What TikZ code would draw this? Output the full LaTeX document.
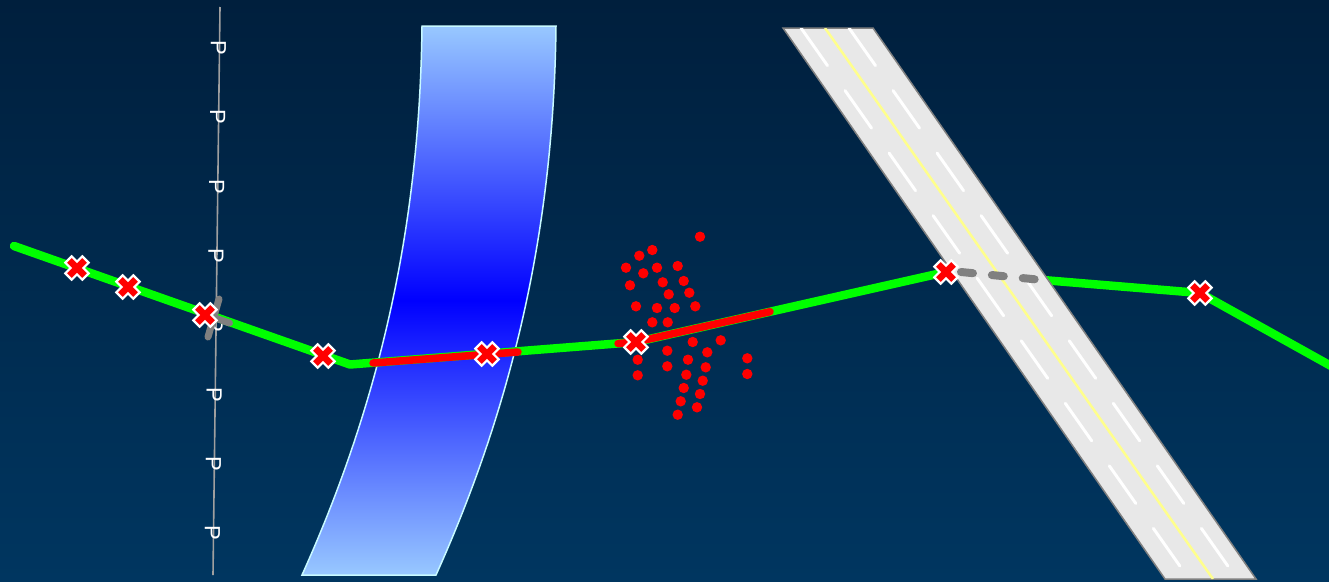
\documentclass[tikz,border=0pt]{standalone}
\usepackage{fontspec}
\setmainfont{Liberation Sans}
\usetikzlibrary{calc}

\definecolor{skytop}{RGB}{0,31,61}
\definecolor{skybot}{RGB}{0,54,96}
\definecolor{riverlight}{RGB}{152,200,255}
\definecolor{riveredge}{RGB}{200,250,255}
\definecolor{roadgray}{RGB}{232,232,232}
\definecolor{curbgray}{RGB}{128,128,128}
\definecolor{laneyellow}{RGB}{255,255,140}
\definecolor{routegreen}{RGB}{0,255,0}

\tikzset{
  route/.style={line width=8.5pt, routegreen, line cap=round, line join=round},
  hazard/.style={line width=7.5pt, red, line cap=round, line join=round},
  gapline/.style={line width=8pt, curbgray, line cap=round, dash pattern=on 12pt off 19pt},
  crossbar/.style={line width=7pt, curbgray, line cap=round},
  lane/.style={line width=3pt, white, line cap=round, dash pattern=on 46pt off 30.5pt},
  pole/.style={line width=1.6pt, gray!75},
  plabel/.style={white, rotate=-90, inner sep=0pt, font=\fontsize{22}{22}\selectfont},
  xmark/.pic={
    \filldraw[fill=red, draw=white, line width=2.2pt, line join=miter, rotate=45]
      (4.5,4.5) -- (12,4.5) -- (12,-4.5) -- (4.5,-4.5) -- (4.5,-12) -- (-4.5,-12)
      -- (-4.5,-4.5) -- (-12,-4.5) -- (-12,4.5) -- (-4.5,4.5) -- (-4.5,12)
      -- (4.5,12) -- cycle;
  }
}

\begin{document}
\begin{tikzpicture}[x=1pt, y=-1pt]
  \useasboundingbox (0,0) rectangle (1329,581);
  \shade[top color=skytop, bottom color=skybot] (0,0) rectangle (1329,581);

  % power line with poles
  \coordinate (poletop) at (220,7);
  \coordinate (polebot) at (213,575);
  \draw[pole] (poletop) -- (polebot);
  \foreach \k in {0,...,7}
    \node[plabel] (p\k) at ($(poletop)!{(41+69.3*\k)/568}!(polebot)+(-1,0)$) {P};

  % river
  \shadedraw[top color=riverlight, bottom color=riverlight, middle color=blue,
             draw=riveredge, line width=1.5pt]
    (422,26) -- (556,26) .. controls (554,200) and (524,380) .. (436,575)
    -- (302,575) .. controls (390,380) and (420,200) .. cycle;

  % route
  \coordinate (r0) at (14,246);
  \coordinate (r1) at (350,364.5);
  \coordinate (r2) at (636,342);
  \coordinate (r3) at (946,272);
  \coordinate (r4) at (1200,293);
  \coordinate (r5) at (1340,371);
  \draw[route] (r0) -- (r1) -- (r2) -- (r3) -- (r4) -- (r5);

  % road
  \path[fill=roadgray, draw=curbgray, line width=1.5pt]
    (783,28) -- (873,28) -- (1256,579) -- (1165,579) -- cycle;
  \begin{scope}
    \clip (783,28) -- (873,28) -- (1256,579) -- (1165,579) -- cycle;
    \draw[lane] (801,28) -- (1189,579);
    \draw[lane] (849,28) -- (1237,579);
    \draw[line width=2.5pt, laneyellow] (825,28) -- (1213,579);
  \end{scope}

  % blocked parts
  \coordinate (h1) at (373,363);
  \coordinate (h2) at (518,352);
  \coordinate (h3) at (618,343.5);
  \coordinate (h4) at (770,311.7);
  \draw[hazard] (h1) -- (h2);
  \draw[hazard] (h3) -- (r2) -- (h4);
  \coordinate (g1) at (961,272);
  \coordinate (g2) at (1037,279.5);
  \draw[gapline] (g1) -- (g2);
  \coordinate (c1) at (219,299);
  \coordinate (c2) at (208,337);
  \coordinate (c3) at (198,312);
  \coordinate (c4) at (229.5,323);
  \draw[crossbar] (c1) -- (c2);
  \draw[crossbar] (c3) -- (c4);

  % debris
  \foreach \x/\y in {700/236.7, 652.3/250, 639.3/255.7, 626/267.7, 643.3/273.3, 657/267.7,
      677.7/266, 630/285.3, 662.7/282.3, 683.7/281, 668.7/294.3, 689.3/292.7, 636/306.3,
      657/308, 674.7/308, 695.3/306.3, 652.3/322.3, 667.7/322.3, 692.7/342, 720.7/340.3,
      667.3/350.7, 707.3/352.3, 637.7/359.7, 688/359.7, 747.3/358.3, 667.3/366.3,
      705.7/367.3, 637.7/375.3, 686.3/374.7, 747.3/374, 702.7/380.7, 683.7/388, 700/394,
      680.7/401.3, 697/407.3, 677.7/414.7}
    \fill[red] (\x,\y) circle (5.2pt);

  % closures
  \coordinate (m1) at (77,268);
  \coordinate (m2) at (128,287);
  \coordinate (m3) at (205,315);
  \coordinate (m4) at (323,356);
  \coordinate (m5) at (487,354);
  \foreach \m in {m1,m2,m3,m4,m5,r2,r3,r4}
    \pic at (\m) {xmark};
\end{tikzpicture}
\end{document}
